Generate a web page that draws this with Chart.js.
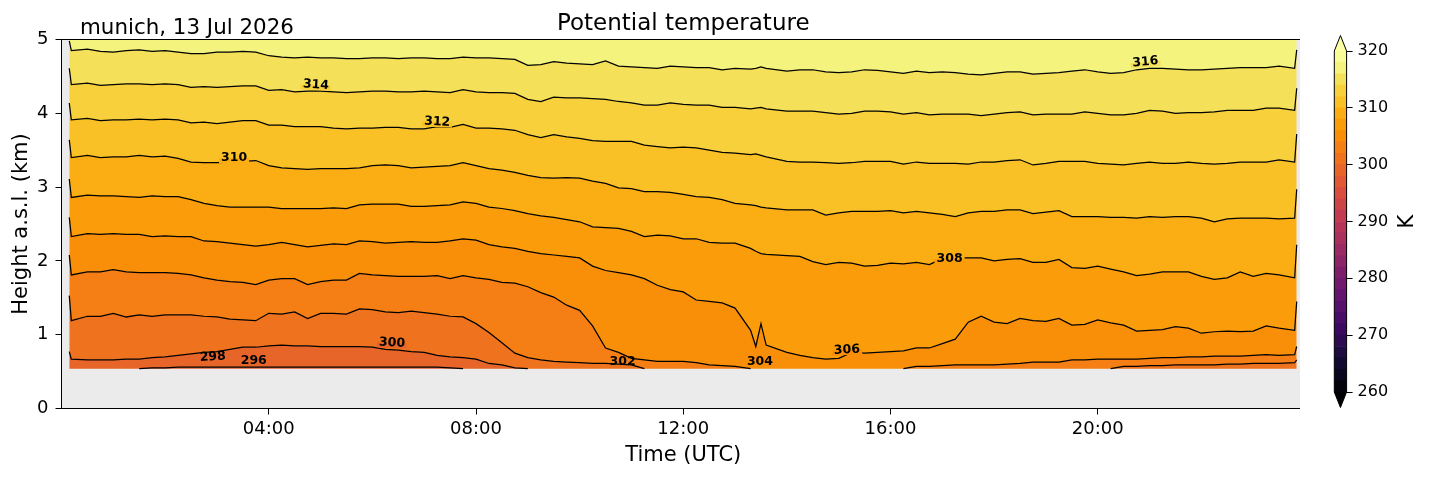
<!DOCTYPE html>
<html>
<head>
<meta charset="utf-8">
<script src="https://cdn.jsdelivr.net/npm/chart.js@4.4.1/dist/chart.umd.min.js"></script>
<style>
  html, body { margin: 0; padding: 0; background: #fff; }
  #wrap { position: relative; width: 1429px; height: 478px; }
  #main { position: absolute; left: 0; top: 0; }
  #cbar { position: absolute; left: 1300px; top: 0; }
</style>
</head>
<body>
<div id="wrap">
  <canvas id="main" width="1429" height="478"></canvas>
  <canvas id="cbar" width="129" height="478"></canvas>
</div>
<script>
// lowest height with data (km a.s.l.)
var F = 0.54;

// time axis, hours UTC (one row per hour)
var times = [
  0.15, 0.19, 0.5, 0.75,
  1, 1.25, 1.5, 1.75,   2, 2.25, 2.5, 2.75,   3, 3.25, 3.5, 3.75,   4, 4.25, 4.5, 4.75,
  5, 5.25, 5.5, 5.75,   6, 6.25, 6.5, 6.75,   7, 7.25, 7.5, 7.75,   8, 8.25, 8.5, 8.75,
  9, 9.25, 9.5, 9.75,   10, 10.25, 10.5, 10.75,   11, 11.25, 11.5, 11.75,   12, 12.25, 12.5, 12.75,
  13, 13.3, 13.4, 13.5, 13.6,
  14, 14.25, 14.5, 14.75,   15, 15.25, 15.5, 15.75,   16, 16.25, 16.5, 16.75,   17, 17.25, 17.5, 17.75,
  18, 18.25, 18.5, 18.75,   19, 19.25, 19.5, 19.75,   20, 20.25, 20.5, 20.75,   21, 21.25, 21.5, 21.75,
  22, 22.25, 22.5, 22.75,
  23, 23.25, 23.5, 23.8, 23.84
];

// height (km) of each potential temperature isoline, same layout as times
var line298 = [
  F, F, F, F,
  F, F, F, 0.55,   0.55, 0.56, 0.56, 0.56,   0.56, 0.56, 0.56, 0.56,   0.56, 0.56, 0.56, 0.56,
  0.56, 0.56, 0.56, 0.56,   0.56, 0.56, 0.56, 0.56,   0.56, 0.56, 0.55, F,   F, F, F, F,
  F, F, F, F,   F, F, F, F,   F, F, F, F,   F, F, F, F,
  F, F, F, F, F,
  F, F, F, F,   F, F, F, F,   F, F, F, F,   F, F, F, F,
  F, F, F, F,   F, F, F, F,   F, F, F, F,   F, F, F, F,
  F, F, F, F,
  F, F, F, F, F
];
var line300 = [
  0.77, 0.67, 0.66, 0.66,
  0.66, 0.67, 0.67, 0.69,   0.70, 0.72, 0.74, 0.76,   0.77, 0.80, 0.83, 0.83,   0.85, 0.86, 0.85, 0.85,
  0.84, 0.84, 0.84, 0.84,   0.83, 0.80, 0.79, 0.77,   0.76, 0.72, 0.70, 0.69,   0.67, 0.61, 0.59, 0.55,
  F, F, F, F,   F, F, F, F,   F, F, F, F,   F, F, F, F,
  F, F, F, F, F,
  F, F, F, F,   F, F, F, F,   F, F, F, F,   F, F, F, F,
  F, F, F, F,   F, F, F, F,   F, F, F, F,   F, F, F, F,
  F, F, F, F,
  F, F, F, F, F
];
var line302 = [
  1.53, 1.19, 1.25, 1.25,
  1.29, 1.24, 1.27, 1.25,   1.27, 1.27, 1.27, 1.25,   1.24, 1.21, 1.20, 1.19,   1.29, 1.28, 1.31, 1.22,
  1.29, 1.29, 1.28, 1.35,   1.34, 1.31, 1.30, 1.32,   1.30, 1.28, 1.25, 1.24,   1.15, 1.03, 0.89, 0.75,
  0.69, 0.66, 0.64, 0.63,   0.62, 0.61, 0.61, 0.60,   0.59, F, F, F,   F, F, F, F,
  F, F, F, F, F,
  F, F, F, F,   F, F, F, F,   F, F, F, F,   F, F, F, F,
  F, F, F, F,   F, F, F, F,   F, F, 0.57, 0.57,   0.58, 0.58, 0.59, 0.59,
  0.59, 0.59, 0.60, 0.60,
  0.61, 0.61, 0.61, 0.62, 0.66
];
var line304 = [
  2.08, 1.81, 1.85, 1.85,
  1.88, 1.85, 1.84, 1.84,   1.84, 1.83, 1.81, 1.77,   1.74, 1.72, 1.71, 1.68,   1.74, 1.76, 1.76, 1.68,
  1.72, 1.74, 1.74, 1.83,   1.81, 1.80, 1.79, 1.79,   1.79, 1.80, 1.76, 1.80,   1.77, 1.75, 1.71, 1.70,
  1.65, 1.57, 1.51, 1.40,   1.33, 1.12, 0.82, 0.76,   0.68, 0.66, 0.64, 0.64,   0.64, 0.62, 0.59, 0.58,
  0.57, F, F, F, F,
  F, F, F, F,   F, F, F, F,   F, F, 0.57, 0.57,   0.58, 0.59, 0.59, 0.59,
  0.59, 0.60, 0.61, 0.63,   0.63, 0.63, 0.66, 0.66,   0.67, 0.67, 0.67, 0.67,   0.68, 0.69, 0.69, 0.70,
  0.70, 0.71, 0.71, 0.71,
  0.72, 0.73, 0.72, 0.73, 0.84
];
var line306 = [
  2.59, 2.33, 2.37, 2.36,
  2.37, 2.36, 2.36, 2.33,   2.34, 2.33, 2.33, 2.27,   2.26, 2.24, 2.22, 2.20,   2.22, 2.25, 2.22, 2.19,
  2.21, 2.23, 2.22, 2.27,   2.26, 2.24, 2.25, 2.26,   2.25, 2.25, 2.27, 2.30,   2.28, 2.22, 2.19, 2.17,
  2.13, 2.10, 2.08, 2.06,   2.04, 1.93, 1.87, 1.84,   1.81, 1.76, 1.67, 1.61,   1.58, 1.47, 1.45, 1.43,
  1.36, 1.06, 0.84, 1.15, 0.86,
  0.76, 0.72, 0.69, 0.67,   0.68, 0.76, 0.75, 0.76,   0.77, 0.78, 0.82, 0.82,   0.88, 0.94, 1.17, 1.25,
  1.17, 1.15, 1.22, 1.19,   1.18, 1.22, 1.13, 1.14,   1.20, 1.16, 1.13, 1.05,   1.06, 1.07, 1.11, 1.09,
  1.02, 1.04, 1.05, 1.04,
  1.05, 1.12, 1.09, 1.06, 1.45
];
var line308 = [
  3.11, 2.86, 2.89, 2.88,
  2.88, 2.87, 2.86, 2.88,   2.87, 2.87, 2.83, 2.78,   2.75, 2.73, 2.73, 2.73,   2.73, 2.71, 2.71, 2.71,
  2.71, 2.72, 2.71, 2.76,   2.77, 2.77, 2.77, 2.74,   2.74, 2.75, 2.76, 2.80,   2.78, 2.73, 2.71, 2.68,
  2.64, 2.61, 2.59, 2.56,   2.53, 2.46, 2.45, 2.44,   2.40, 2.33, 2.35, 2.34,   2.30, 2.30, 2.25, 2.24,
  2.24, 2.17, 2.13, 2.10, 2.09,
  2.07, 2.06, 1.99, 1.95,   1.98, 1.97, 1.93, 1.94,   1.97, 1.96, 1.98, 1.95,   2.03, 2.04, 2.04, 2.04,
  2.00, 2.02, 2.03, 1.98,   1.98, 2.02, 1.91, 1.90,   1.93, 1.89, 1.85, 1.80,   1.82, 1.85, 1.85, 1.85,
  1.79, 1.75, 1.77, 1.85,
  1.79, 1.83, 1.81, 1.77, 2.22
];
var line310 = [
  3.64, 3.40, 3.43, 3.40,
  3.41, 3.41, 3.43, 3.41,   3.42, 3.39, 3.34, 3.33,   3.33, 3.34, 3.35, 3.36,   3.29, 3.26, 3.25, 3.24,
  3.25, 3.25, 3.25, 3.26,   3.29, 3.30, 3.29, 3.26,   3.27, 3.28, 3.29, 3.33,   3.29, 3.25, 3.23, 3.20,
  3.16, 3.13, 3.12, 3.13,   3.12, 3.08, 3.05, 2.99,   2.98, 2.94, 2.94, 2.93,   2.90, 2.87, 2.86, 2.83,
  2.78, 2.76, 2.75, 2.73, 2.72,
  2.69, 2.69, 2.69, 2.62,   2.65, 2.67, 2.67, 2.67,   2.68, 2.65, 2.67, 2.65,   2.63, 2.60, 2.65, 2.67,
  2.67, 2.69, 2.69, 2.64,   2.66, 2.68, 2.60, 2.60,   2.60, 2.59, 2.59, 2.58,   2.60, 2.59, 2.60, 2.60,
  2.58, 2.53, 2.57, 2.58,
  2.58, 2.58, 2.57, 2.58, 2.97
];
var line312 = [
  4.14, 3.91, 3.93, 3.90,
  3.91, 3.91, 3.92, 3.91,   3.92, 3.91, 3.87, 3.88,   3.86, 3.88, 3.90, 3.90,   3.84, 3.84, 3.82, 3.82,
  3.82, 3.80, 3.79, 3.80,   3.80, 3.81, 3.81, 3.79,   3.79, 3.82, 3.81, 3.85,   3.80, 3.80, 3.79, 3.77,
  3.71, 3.67, 3.71, 3.68,   3.66, 3.63, 3.62, 3.62,   3.62, 3.57, 3.55, 3.53,   3.54, 3.53, 3.50, 3.47,
  3.46, 3.44, 3.45, 3.43, 3.41,
  3.35, 3.34, 3.34, 3.33,   3.32, 3.33, 3.35, 3.35,   3.35, 3.31, 3.34, 3.32,   3.32, 3.32, 3.31, 3.34,
  3.34, 3.36, 3.37, 3.30,   3.32, 3.35, 3.35, 3.35,   3.32, 3.31, 3.30, 3.32,   3.34, 3.32, 3.32, 3.34,
  3.32, 3.31, 3.32, 3.34,
  3.34, 3.34, 3.37, 3.34, 3.72
];
var line314 = [
  4.61, 4.39, 4.41, 4.38,
  4.39, 4.40, 4.40, 4.39,   4.40, 4.39, 4.35, 4.36,   4.35, 4.36, 4.37, 4.37,   4.31, 4.32, 4.29, 4.30,
  4.30, 4.29, 4.28, 4.29,   4.30, 4.30, 4.29, 4.29,   4.30, 4.29, 4.28, 4.32,   4.29, 4.28, 4.28, 4.27,
  4.19, 4.16, 4.22, 4.21,   4.21, 4.20, 4.19, 4.16,   4.14, 4.11, 4.11, 4.14,   4.12, 4.11, 4.11, 4.08,
  4.08, 4.06, 4.07, 4.08, 4.06,
  4.03, 4.03, 4.03, 4.01,   3.99, 4.00, 4.03, 4.03,   4.02, 3.99, 4.01, 3.98,   3.99, 3.99, 3.99, 3.97,
  3.99, 4.01, 4.02, 3.98,   3.99, 3.99, 3.99, 4.02,   4.00, 3.98, 3.98, 4.00,   4.04, 4.03, 4.00, 4.01,
  4.01, 4.02, 4.04, 4.04,
  4.04, 4.07, 4.07, 4.04, 4.34
];
var line316 = [
  4.98, 4.85, 4.87, 4.84,
  4.83, 4.85, 4.86, 4.84,   4.85, 4.83, 4.81, 4.81,   4.83, 4.83, 4.84, 4.83,   4.78, 4.76, 4.75, 4.76,
  4.75, 4.75, 4.74, 4.74,   4.75, 4.75, 4.74, 4.75,   4.75, 4.74, 4.74, 4.76,   4.75, 4.75, 4.74, 4.73,
  4.65, 4.66, 4.70, 4.68,   4.67, 4.66, 4.71, 4.64,   4.63, 4.62, 4.61, 4.64,   4.63, 4.62, 4.62, 4.59,
  4.61, 4.60, 4.61, 4.63, 4.61,
  4.57, 4.59, 4.59, 4.56,   4.55, 4.56, 4.59, 4.58,   4.56, 4.54, 4.57, 4.55,   4.56, 4.55, 4.53, 4.52,
  4.54, 4.56, 4.56, 4.53,   4.54, 4.55, 4.57, 4.59,   4.56, 4.54, 4.55, 4.59,   4.61, 4.61, 4.60, 4.59,
  4.59, 4.60, 4.61, 4.62,
  4.62, 4.62, 4.64, 4.61, 4.86
];

var contourLevels = [298, 300, 302, 304, 306, 308, 310, 312, 314, 316];
var contourLines = [line298, line300, line302, line304, line306, line308, line310, line312, line314, line316];

// inline contour labels
var labelText   = ['316', '314', '312', '310', '308', '306', '304', '302', '300', '298', '296'];
var labelTime   = [20.92, 4.91, 7.25, 3.33, 17.14, 15.16, 13.48, 10.83, 6.38, 2.92, 3.71];
var labelHeight = [4.695, 4.383, 3.883, 3.394, 2.026, 0.793, 0.630, 0.630, 0.888, 0.698, 0.644];
var labelAngle  = [-5, 4, 3, 0, 0, -3, 0, 0, 3, -3, 0];

var tickHours  = [4, 8, 12, 16, 20];
var tickLabels = ['04:00', '08:00', '12:00', '16:00', '20:00'];

var cbLevels = [260, 262, 264, 266, 268, 270, 272, 274, 276, 278, 280, 282, 284, 286, 288, 290,
                292, 294, 296, 298, 300, 302, 304, 306, 308, 310, 312, 314, 316, 318, 320];
var cbTicks = [260, 270, 280, 290, 300, 310, 320];

var cmapStops = [
  [0.00, [0, 0, 4]], [0.10, [22, 11, 57]], [0.20, [66, 10, 104]], [0.30, [106, 23, 110]],
  [0.40, [147, 38, 103]], [0.50, [188, 55, 84]], [0.60, [221, 81, 58]], [0.70, [243, 120, 25]],
  [0.75, [249, 142, 9]], [0.80, [252, 165, 10]], [0.85, [250, 193, 39]], [0.90, [246, 215, 70]],
  [0.95, [243, 243, 126]], [1.00, [252, 255, 164]]
];

function inferno(v) {
  v = Math.max(0, Math.min(1, v));
  for (var i = 1; i < cmapStops.length; i++) {
    if (v <= cmapStops[i][0]) {
      var a = cmapStops[i - 1], b = cmapStops[i];
      var f = (v - a[0]) / (b[0] - a[0]);
      var c = a[1].map(function (x, k) { return Math.round(x + (b[1][k] - x) * f); });
      return 'rgb(' + c.join(',') + ')';
    }
  }
  return 'rgb(252,255,164)';
}

function thetaColor(t) { return inferno((t - 260) / 60); }

function toPoints(vals) {
  return times.map(function (t, j) { return {x: t, y: vals[j]}; });
}

// isoline stroke: drop the parts that lie on the lowest gate
function strokePoints(vals) {
  var onFloor = function (k) { return k < 0 || k >= vals.length || vals[k] <= F; };
  return times.map(function (t, j) {
    var keep = !(onFloor(j) && onFloor(j - 1) && onFloor(j + 1));
    return {x: t, y: keep ? vals[j] : null};
  });
}

Chart.defaults.font.family = '"DejaVu Sans", sans-serif';
Chart.defaults.color = '#000';

var datasets = [];
// filled bands between isolines
contourLines.forEach(function (vals, i) {
  datasets.push({
    data: toPoints(vals),
    fill: i === 0 ? {value: F} : '-1',
    backgroundColor: thetaColor(contourLevels[i] - 1),
    borderColor: 'rgba(0,0,0,0)',
    borderWidth: 0,
    pointRadius: 0,
    tension: 0
  });
});
datasets.push({
  data: toPoints(line316),
  fill: 'end',
  backgroundColor: thetaColor(317),
  borderColor: 'rgba(0,0,0,0)',
  borderWidth: 0,
  pointRadius: 0,
  tension: 0
});
// black isolines
contourLines.forEach(function (vals) {
  datasets.push({
    data: strokePoints(vals),
    fill: false,
    borderColor: '#000',
    borderWidth: 1.25,
    pointRadius: 0,
    tension: 0,
    spanGaps: false
  });
});

var mainDeco = {
  id: 'mainDeco',
  beforeDraw: function (chart) {
    var ctx = chart.ctx, a = chart.chartArea;
    ctx.save();
    ctx.fillStyle = '#fff';
    ctx.fillRect(0, 0, chart.width, chart.height);
    ctx.fillStyle = '#ebebeb';
    ctx.fillRect(a.left, a.top, a.right - a.left, a.bottom - a.top);
    ctx.restore();
  },
  afterDatasetsDraw: function (chart) {
    var ctx = chart.ctx, xs = chart.scales.x, ys = chart.scales.y, a = chart.chartArea;
    ctx.save();
    ctx.font = 'bold 12.5px "DejaVu Sans"';
    ctx.textAlign = 'center';
    ctx.textBaseline = 'middle';
    labelText.forEach(function (txt, i) {
      var lvl = parseInt(txt, 10);
      ctx.save();
      ctx.translate(xs.getPixelForValue(labelTime[i]), ys.getPixelForValue(labelHeight[i]));
      ctx.rotate(labelAngle[i] * Math.PI / 180);
      if (labelHeight[i] > 0.7) {
        // break the isoline under its label
        var w = ctx.measureText(txt).width + 4;
        ctx.fillStyle = thetaColor(lvl + 1);
        ctx.fillRect(-w / 2, -5, w, 5);
        ctx.fillStyle = thetaColor(lvl - 1);
        ctx.fillRect(-w / 2, 0, w, 5);
      }
      ctx.fillStyle = '#000';
      ctx.fillText(txt, 0, 0);
      ctx.restore();
    });
    ctx.strokeStyle = '#000';
    ctx.lineWidth = 1;
    ctx.strokeRect(a.left, a.top, a.right - a.left, a.bottom - a.top);
    ctx.restore();
  },
  afterDraw: function (chart) {
    var ctx = chart.ctx, a = chart.chartArea;
    ctx.save();
    ctx.fillStyle = '#000';
    ctx.textBaseline = 'alphabetic';
    ctx.font = '23px "DejaVu Sans"';
    ctx.textAlign = 'center';
    ctx.fillText('Potential temperature', (a.left + a.right) / 2, 29.5);
    ctx.font = '21.4px "DejaVu Sans"';
    ctx.textAlign = 'left';
    ctx.fillText('munich, 13 Jul 2026', 80, 34);
    ctx.restore();
  }
};

new Chart(document.getElementById('main').getContext('2d'), {
  type: 'line',
  data: {datasets: datasets},
  options: {
    responsive: false,
    animation: false,
    layout: {padding: {top: 39.5, right: 124, bottom: 0, left: 0}},
    plugins: {
      legend: {display: false},
      tooltip: {enabled: false},
      filler: {drawTime: 'beforeDatasetsDraw'}
    },
    scales: {
      x: {
        type: 'linear', min: 0, max: 24,
        afterBuildTicks: function (scale) {
          scale.ticks = tickHours.map(function (h) { return {value: h}; });
        },
        afterFit: function (scale) { scale.height = 69.5; },
        ticks: {
          font: {size: 18}, color: '#000', padding: 4, maxRotation: 0,
          callback: function (v) { var i = tickHours.indexOf(v); return i >= 0 ? tickLabels[i] : ''; }
        },
        grid: {drawOnChartArea: false, tickLength: 6, color: '#000'},
        border: {display: true, color: '#000'},
        title: {display: true, text: 'Time (UTC)', font: {size: 21}, padding: {top: 0, bottom: 10}}
      },
      y: {
        type: 'linear', min: 0, max: 5,
        afterFit: function (scale) { scale.width = 61.5; },
        ticks: {stepSize: 1, font: {size: 18}, color: '#000', padding: 7},
        grid: {drawOnChartArea: false, tickLength: 6, color: '#000'},
        border: {display: true, color: '#000'},
        title: {display: true, text: 'Height a.s.l. (km)', font: {size: 21}, padding: {top: 9, bottom: 0}}
      }
    }
  },
  plugins: [mainDeco]
});

// colour bar
var cbDeco = {
  id: 'cbDeco',
  beforeDraw: function (chart) {
    var ctx = chart.ctx;
    ctx.save();
    ctx.fillStyle = '#fff';
    ctx.fillRect(0, 0, chart.width, chart.height);
    ctx.restore();
  },
  afterDatasetsDraw: function (chart) {
    var ctx = chart.ctx, a = chart.chartArea, ys = chart.scales.y;
    var top = ys.getPixelForValue(320), bot = ys.getPixelForValue(260);
    var cx = (a.left + a.right) / 2, ext = 15.5;
    ctx.save();
    ctx.fillStyle = inferno(1);
    ctx.beginPath();
    ctx.moveTo(a.left, top); ctx.lineTo(cx, top - ext); ctx.lineTo(a.right, top); ctx.closePath();
    ctx.fill();
    ctx.fillStyle = inferno(0);
    ctx.beginPath();
    ctx.moveTo(a.left, bot); ctx.lineTo(cx, bot + ext); ctx.lineTo(a.right, bot); ctx.closePath();
    ctx.fill();
    ctx.strokeStyle = '#000';
    ctx.lineWidth = 1;
    ctx.beginPath();
    ctx.moveTo(cx, top - ext); ctx.lineTo(a.right, top); ctx.lineTo(a.right, bot);
    ctx.lineTo(cx, bot + ext); ctx.lineTo(a.left, bot); ctx.lineTo(a.left, top); ctx.closePath();
    ctx.stroke();
    ctx.restore();
  },
  afterDraw: function (chart) {
    var ctx = chart.ctx, a = chart.chartArea;
    ctx.save();
    ctx.translate(108, (a.top + a.bottom) / 2);
    ctx.rotate(-Math.PI / 2);
    ctx.font = '21px "DejaVu Sans"';
    ctx.fillStyle = '#000';
    ctx.textAlign = 'center';
    ctx.textBaseline = 'middle';
    ctx.fillText('K', 0, 0);
    ctx.restore();
  }
};

new Chart(document.getElementById('cbar').getContext('2d'), {
  type: 'bar',
  data: {
    labels: ['K'],
    datasets: cbLevels.slice(0, -1).map(function (lo, i) {
      return {
        data: [[lo, cbLevels[i + 1]]],
        backgroundColor: thetaColor(lo + 1),
        borderWidth: 0,
        grouped: false,
        barPercentage: 1,
        categoryPercentage: 1
      };
    })
  },
  options: {
    responsive: false,
    animation: false,
    layout: {padding: {top: 51, right: 0, bottom: 86, left: 34.3}},
    plugins: {legend: {display: false}, tooltip: {enabled: false}},
    scales: {
      x: {display: false},
      y: {
        position: 'right', min: 260, max: 320,
        afterBuildTicks: function (scale) {
          scale.ticks = cbTicks.map(function (v) { return {value: v}; });
        },
        afterFit: function (scale) { scale.width = 82.4; },
        ticks: {font: {size: 16}, color: '#000', padding: 5},
        grid: {drawOnChartArea: false, tickLength: 6, color: '#000'},
        border: {display: false}
      }
    }
  },
  plugins: [cbDeco]
});
</script>
</body>
</html>
